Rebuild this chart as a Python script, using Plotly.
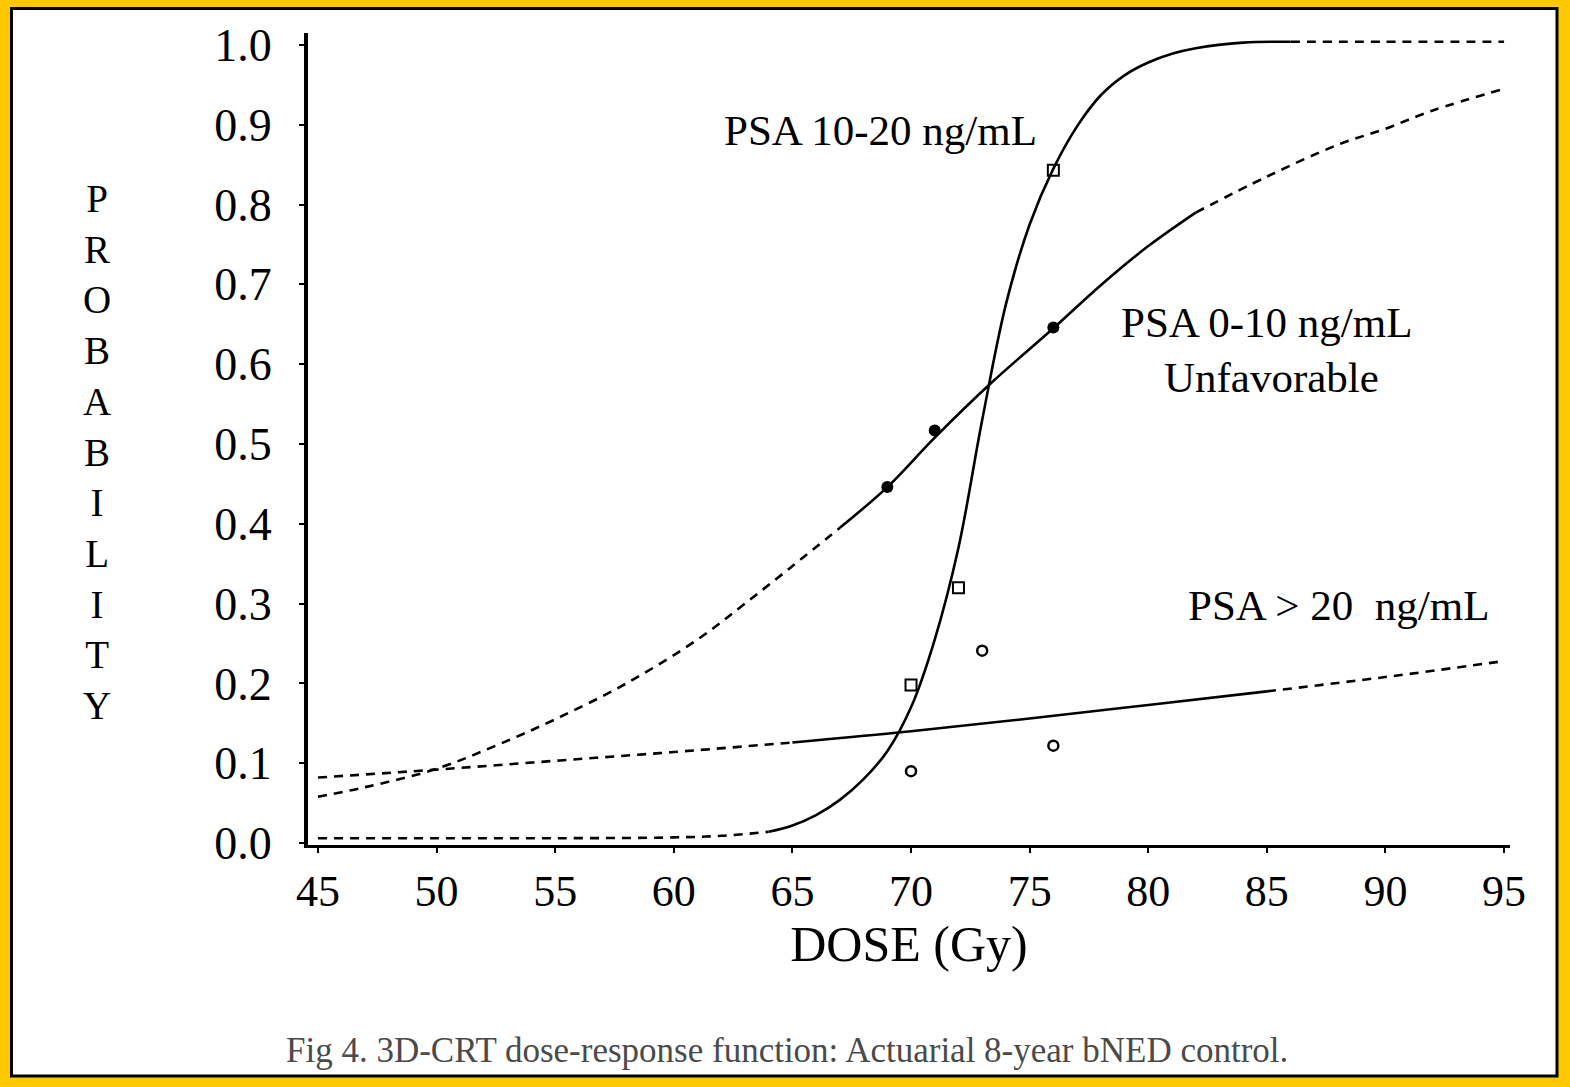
import plotly.graph_objects as go

# ---------------- data ----------------
dose_1020 = [45, 50, 55, 60, 62, 64, 65, 66, 67, 68, 69, 70, 71, 72, 73, 74, 75, 76, 77, 78, 79, 80, 81, 82, 84, 86, 90, 95]
prob_1020 = [0.006, 0.006, 0.006, 0.007, 0.009, 0.014, 0.022, 0.035, 0.054, 0.08, 0.115, 0.17, 0.255, 0.37, 0.53, 0.675, 0.775, 0.845, 0.898, 0.937, 0.962, 0.978, 0.989, 0.996, 1.003, 1.004, 1.004, 1.004]

dose_010 = [45, 47, 50, 52.5, 55, 58, 61, 63, 65, 67, 69, 71, 73.4, 76, 78, 80, 82, 85, 88, 90, 92, 95]
prob_010 = [0.058, 0.07, 0.093, 0.122, 0.155, 0.2, 0.255, 0.3, 0.347, 0.395, 0.446, 0.508, 0.577, 0.645, 0.699, 0.748, 0.79, 0.835, 0.875, 0.895, 0.918, 0.945]

dose_gt20 = [45, 50, 55, 60, 65, 70, 75, 80, 85, 90, 95]
prob_gt20 = [0.082, 0.092, 0.103, 0.114, 0.126, 0.14, 0.156, 0.173, 0.19, 0.208, 0.228]

# observed points
obs_1020_x = [70, 72, 76]
obs_1020_y = [0.198, 0.32, 0.843]
obs_010_x = [69, 71, 76]
obs_010_y = [0.446, 0.517, 0.646]
obs_gt20_x = [70, 73, 76]
obs_gt20_y = [0.09, 0.241, 0.122]

x_ticks = [45, 50, 55, 60, 65, 70, 75, 80, 85, 90, 95]
y_ticks = [0.0, 0.1, 0.2, 0.3, 0.4, 0.5, 0.6, 0.7, 0.8, 0.9, 1.0]

# dose range over which each fitted curve is drawn solid (extrapolated parts dashed)
solid_1020 = (64, 86)
solid_010 = (67, 82)
solid_gt20 = (65, 85)

FONT = "Liberation Serif"
W, H = 1570, 1087
ML, MR, MT, MB = 308, 60, 33, 242
PW, PH = W - ML - MR, H - MT - MB


def px_to_paper(px, py):
    return (px - ML) / PW, (H - MB - py) / PH


fig = go.Figure()


def add_curve(xs, ys, lo_hi):
    lo, hi = lo_hi
    i_lo = min(i for i, x in enumerate(xs) if x >= lo)
    i_hi = max(i for i, x in enumerate(xs) if x <= hi)
    parts = [
        (0, i_lo, "9px,7px"),
        (i_lo, i_hi, "solid"),
        (i_hi, len(xs) - 1, "9px,7px"),
    ]
    for a, b, dash in parts:
        fig.add_trace(go.Scatter(
            x=xs[a:b + 1], y=ys[a:b + 1], mode="lines", line_shape="spline",
            line=dict(color="black", width=2.6, dash=dash),
            showlegend=False, hoverinfo="skip"))


add_curve(dose_1020, prob_1020, solid_1020)
add_curve(dose_010, prob_010, solid_010)
add_curve(dose_gt20, prob_gt20, solid_gt20)

fig.add_trace(go.Scatter(x=obs_1020_x, y=obs_1020_y, mode="markers",
                         marker=dict(symbol="square-open", size=11, color="black", line=dict(width=2)),
                         showlegend=False))
fig.add_trace(go.Scatter(x=obs_010_x, y=obs_010_y, mode="markers",
                         marker=dict(symbol="circle", size=12, color="black"),
                         showlegend=False))
fig.add_trace(go.Scatter(x=obs_gt20_x, y=obs_gt20_y, mode="markers",
                         marker=dict(symbol="circle-open", size=10, color="black", line=dict(width=2.5)),
                         showlegend=False))

# curve labels
labels = [
    ("PSA 10-20 ng/mL", 68.7, 0.893),
    ("PSA 0-10 ng/mL", 85.0, 0.652),
    ("Unfavorable", 85.2, 0.583),
    ("PSA > 20  ng/mL", 88.0, 0.297),
]
for txt, lx, ly in labels:
    fig.add_annotation(x=lx, y=ly, text=txt.replace("  ", "&nbsp; "), showarrow=False,
                       font=dict(family=FONT, size=43, color="black"),
                       xanchor="center", yanchor="middle")

# vertical stacked y-axis title
ytx, yty = px_to_paper(97, 452)
fig.add_annotation(xref="paper", yref="paper", x=ytx, y=yty,
                   text="<br>".join(list("PROBABILITY")), showarrow=False,
                   font=dict(family=FONT, size=39, color="black"),
                   xanchor="center", yanchor="middle", align="center")

# caption
cx, cy = px_to_paper(787, 1050)
fig.add_annotation(xref="paper", yref="paper", x=cx, y=cy,
                   text="Fig 4. 3D-CRT dose-response function: Actuarial 8-year bNED control.",
                   showarrow=False, font=dict(family=FONT, size=35, color="#4a4a4a"),
                   xanchor="center", yanchor="middle")

# frame: yellow outer border with thin black inner line
x0, y0 = px_to_paper(11.5, 1076)
x1, y1 = px_to_paper(1557, 8.5)
fig.add_shape(type="rect", xref="paper", yref="paper", x0=x0, y0=y0, x1=x1, y1=y1,
              fillcolor="white", line=dict(color="black", width=3), layer="below")

fig.update_layout(
    width=W, height=H,
    margin=dict(l=ML, r=MR, t=MT, b=MB, pad=0),
    paper_bgcolor="#FFC800",
    plot_bgcolor="white",
    font=dict(family=FONT, color="black"),
    xaxis=dict(range=[44.58, 95.25], tickvals=x_ticks, ticktext=[str(v) for v in x_ticks],
               showgrid=False, zeroline=False, showline=True, linecolor="black", linewidth=3,
               ticks="outside", ticklen=5, tickwidth=1.5, tickcolor="black",
               tickfont=dict(family=FONT, size=44, color="black"),
               title=dict(text="DOSE (Gy)", font=dict(family=FONT, size=50, color="black"), standoff=3)),
    yaxis=dict(range=[-0.0025, 1.015], tickvals=y_ticks, ticktext=[f"{v:.1f}" for v in y_ticks],
               showgrid=False, zeroline=False, showline=True, linecolor="black", linewidth=4,
               ticks="outside", ticklen=5, tickwidth=1.5, tickcolor="black",
               ticklabelstandoff=18,
               tickfont=dict(family=FONT, size=46, color="black")),
)

fig.write_html("out.html", config={"displayModeBar": False},
               post_script="document.body.style.margin='0';document.body.style.overflow='hidden';")
